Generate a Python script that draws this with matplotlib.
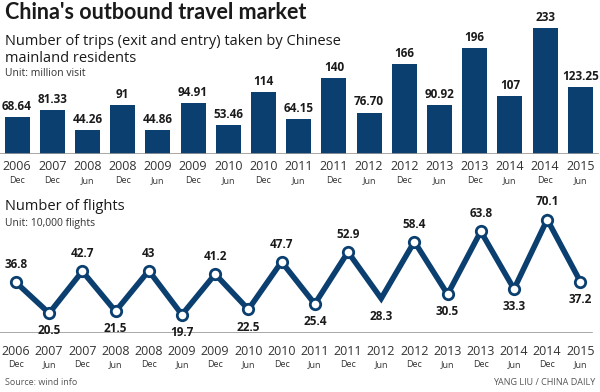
import matplotlib
matplotlib.use("Agg")
import matplotlib.pyplot as plt

# trips (exit and entry), million visits
trip_years = ["2006", "2007", "2008", "2008", "2009", "2009", "2010", "2010", "2011",
              "2011", "2012", "2012", "2013", "2013", "2014", "2014", "2015"]
trip_months = ["Dec", "Dec", "Jun", "Dec", "Jun", "Dec", "Jun", "Dec", "Jun",
               "Dec", "Jun", "Dec", "Jun", "Dec", "Jun", "Dec", "Jun"]
trips = [68.64, 81.33, 44.26, 91, 44.86, 94.91, 53.46, 114, 64.15,
         140, 76.70, 166, 90.92, 196, 107, 233, 123.25]
trip_labels = ["68.64", "81.33", "44.26", "91", "44.86", "94.91", "53.46", "114", "64.15",
               "140", "76.70", "166", "90.92", "196", "107", "233", "123.25"]

# flights, 10,000 flights
flight_years = ["2006", "2007", "2007", "2008", "2008", "2009", "2009", "2010", "2010",
                "2011", "2011", "2012", "2012", "2013", "2013", "2014", "2014", "2015"]
flight_months = ["Dec", "Jun", "Dec", "Jun", "Dec", "Jun", "Dec", "Jun", "Dec",
                 "Jun", "Dec", "Jun", "Dec", "Jun", "Dec", "Jun", "Dec", "Jun"]
flights = [36.8, 20.5, 42.7, 21.5, 43, 19.7, 41.2, 22.5, 47.7,
           25.4, 52.9, 28.3, 58.4, 30.5, 63.8, 33.3, 70.1, 37.2]

navy = "#0a3f70"
txt = "#1a1a1a"
cond = ["Liberation Sans Narrow", "DejaVu Sans"]
plt.rcParams["font.family"] = ["Open Sans", "DejaVu Sans"]

fig = plt.figure(figsize=(6, 3.92), dpi=100)

# titles
fig.text(0.008, 0.968, "China's outbound travel market", fontsize=15.5, fontweight="bold",
         color=txt, va="center", family=["Lato", "DejaVu Sans"])
fig.text(0.008, 0.895, "Number of trips (exit and entry) taken by Chinese", fontsize=10.5,
         color=txt, va="center")
fig.text(0.008, 0.850, "mainland residents", fontsize=10.5, color=txt, va="center")
fig.text(0.008, 0.812, "Unit: million visit", fontsize=7.5, color="#333333", va="center")

# bar chart
ax1 = fig.add_axes([0, 0.607, 1, 0.342])
x1 = list(range(len(trips)))
ax1.bar(x1, trips, width=0.71, color=navy)
for xi, v, lab in zip(x1, trips, trip_labels):
    ax1.annotate(lab, (xi, v), xytext=(0, 3), textcoords="offset points", ha="center",
                 va="bottom", fontsize=8.5, fontweight="bold", color=txt)
ax1.set_xlim(-0.483, 16.56)
ax1.set_ylim(0, 248)
ax1.axis("off")
ax1.axhline(0, xmin=0, xmax=0.997, color="#9a9a9a", lw=1.2)
for xi, yr, mo in zip(x1, trip_years, trip_months):
    ax1.annotate(yr, (xi, 0), xytext=(0, -9), textcoords="offset points", ha="center",
                 va="center", fontsize=9, color="#333333", annotation_clip=False)
    ax1.annotate(mo, (xi, 0), xytext=(0, -19), textcoords="offset points", ha="center",
                 va="center", fontsize=6.5, color="#333333", annotation_clip=False)

fig.text(0.008, 0.472, "Number of flights", fontsize=10.5, color=txt, va="center")
fig.text(0.008, 0.429, "Unit: 10,000 flights", fontsize=7.5, color="#333333", va="center")

# line chart
ax2 = fig.add_axes([0, 0.1505, 1, 0.339])
x2 = list(range(len(flights)))
ax2.plot(x2, flights, color=navy, lw=4, solid_joinstyle="miter", zorder=2)
mark = [i for i in x2 if i != 11]
ax2.plot(mark, [flights[i] for i in mark], ls="none", marker="o", ms=7.5,
         mfc="white", mec=navy, mew=2, zorder=3)
for i, v in enumerate(flights):
    peak = (i % 2 == 0) and i != len(flights) - 1
    off = 8 if peak else -8
    ax2.annotate(f"{v:g}", (i, v), xytext=(0, off), textcoords="offset points",
                 ha="center", va="bottom" if peak else "top", fontsize=8.5,
                 fontweight="bold", color=txt)
ax2.set_xlim(-0.48, 17.59)
ax2.set_ylim(10, 80.4)
ax2.axis("off")
ax2.axhline(10, xmin=0, xmax=0.987, color="#9a9a9a", lw=1.2)
for xi, yr, mo in zip(x2, flight_years, flight_months):
    ax2.annotate(yr, (xi, 10), xytext=(0, -13), textcoords="offset points", ha="center",
                 va="center", fontsize=9, color="#333333", annotation_clip=False)
    ax2.annotate(mo, (xi, 10), xytext=(0, -23), textcoords="offset points", ha="center",
                 va="center", fontsize=6.5, color="#333333", annotation_clip=False)

fig.text(0.008, 0.025, "Source: wind info", fontsize=6.5, color="#555555", va="center")
fig.text(0.992, 0.025, "YANG LIU / CHINA DAILY", fontsize=6.5, color="#555555",
         va="center", ha="right")

fig.savefig("out.png", dpi=100, facecolor="white")
